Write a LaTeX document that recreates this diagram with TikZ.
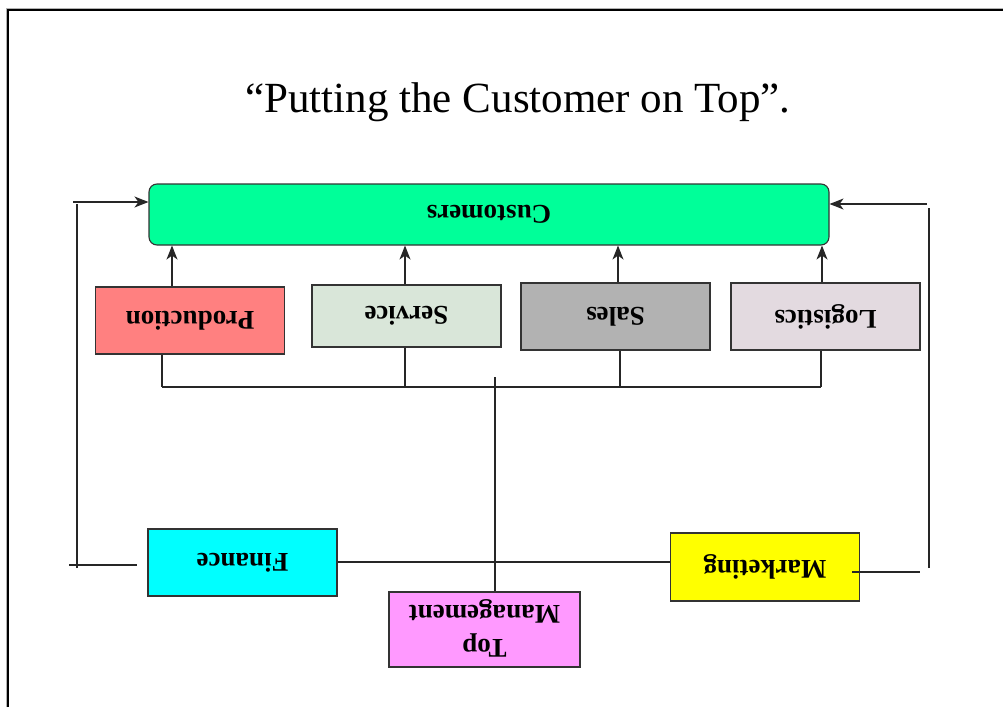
\documentclass[tikz,border=0pt]{standalone}
\usepackage{fontspec}
\setmainfont{Liberation Serif}
\usetikzlibrary{arrows.meta}
\definecolor{custgreen}{RGB}{0,255,153}
\definecolor{prodred}{RGB}{255,128,128}
\definecolor{servgreen}{RGB}{217,230,217}
\definecolor{salesgray}{RGB}{178,178,178}
\definecolor{logipink}{RGB}{227,218,224}
\definecolor{fincyan}{RGB}{0,255,255}
\definecolor{mktyellow}{RGB}{255,255,0}
\definecolor{tmpink}{RGB}{255,153,255}
\tikzset{
  box/.style={draw=black!80, line width=1.1pt, inner sep=0pt, minimum width=189pt,
    font=\fontsize{27}{34}\selectfont\bfseries},
  conn/.style={draw=black!85, line width=1.1pt},
  arr/.style={conn, -{Stealth[length=14pt,width=11pt,inset=4pt]}},
}
\newcommand{\upside}[1]{\rotatebox{180}{#1}}
\begin{document}
\begin{tikzpicture}[x=1pt,y=-1pt]
\useasboundingbox (0,0) rectangle (1003,707);
% frame
\draw[black!30, line width=1pt] (6.5,707) -- (6.5,8.2) -- (1003,8.2);
\draw[black, line width=1.4pt] (7.8,707) -- (7.8,9.8) -- (1003,9.8);
% title
\node[font=\fontsize{43}{50}\selectfont, anchor=base] (title) at (518,112) {“Putting the Customer on Top”.};
% boxes
\node[box, fill=custgreen, rounded corners=8pt, minimum width=680pt, minimum height=61pt] (cust) at (489,214.5) {\upside{Customers}};
\node[box, fill=prodred, minimum height=67pt] (prod) at (190,320.5) {\upside{Production}};
\node[box, fill=servgreen, minimum height=62pt] (serv) at (406.5,316) {\upside{Service}};
\node[box, fill=salesgray, minimum height=67pt] (sales) at (615.5,316.5) {\upside{Sales}};
\node[box, fill=logipink, minimum height=67pt] (logi) at (825.5,316.5) {\upside{Logistics}};
\node[box, fill=fincyan, minimum height=67pt] (fin) at (242.5,562.5) {\upside{Finance}};
\node[box, fill=mktyellow, minimum height=68pt] (mkt) at (765,567) {\upside{Marketing}};
\node[box, fill=tmpink, minimum width=191pt, minimum height=75pt] (tm) at (484.5,629.5) {\upside{\begin{tabular}{@{}c@{}}Top\\Management\end{tabular}}};
% arrows to customers
\draw[arr] ([xshift=-18pt]prod.north) -- ([xshift=-18pt]prod.north |- cust.south);
\draw[arr] ([xshift=-1.5pt]serv.north) -- ([xshift=-1.5pt]serv.north |- cust.south);
\draw[arr] ([xshift=2.5pt]sales.north) -- ([xshift=2.5pt]sales.north |- cust.south);
\draw[arr] ([xshift=-3.5pt]logi.north) -- ([xshift=-3.5pt]logi.north |- cust.south);
% bus
\coordinate (busL) at (162,387);
\coordinate (busR) at (821,387);
\draw[conn] (busL) -- (busR);
\draw[conn] ([xshift=-28pt]prod.south) -- ([xshift=-28pt]prod.south |- busL);
\draw[conn] ([xshift=-1.5pt]serv.south) -- ([xshift=-1.5pt]serv.south |- busL);
\draw[conn] ([xshift=4.5pt]sales.south) -- ([xshift=4.5pt]sales.south |- busL);
\draw[conn] ([xshift=-4.5pt]logi.south) -- ([xshift=-4.5pt]logi.south |- busL);
% top management line
\coordinate (tmtop) at (495,377);
\draw[conn] ([xshift=10.5pt]tm.north) -- ([xshift=10.5pt]tm.north |- tmtop);
% finance - marketing
\coordinate (fm) at (337,562);
\draw[conn] (fin.east |- fm) -- (fm -| mkt.west);
% left loop
\coordinate (l1) at (69,565);
\coordinate (l2) at (137,565);
\coordinate (lv1) at (77,568);
\coordinate (lv2) at (77,204);
\coordinate (la) at (73,202);
\draw[conn] (l1) -- (l2);
\draw[conn] (lv1) -- (lv2);
\draw[arr] (la) -- (la -| cust.west);
% right loop
\coordinate (r1) at (852,572);
\coordinate (r2) at (920,572);
\coordinate (rv1) at (929,568);
\coordinate (rv2) at (929,208);
\coordinate (ra) at (927,204);
\draw[conn] (r1) -- (r2);
\draw[conn] (rv1) -- (rv2);
\draw[arr] (ra) -- (ra -| cust.east);
\end{tikzpicture}
\end{document}
